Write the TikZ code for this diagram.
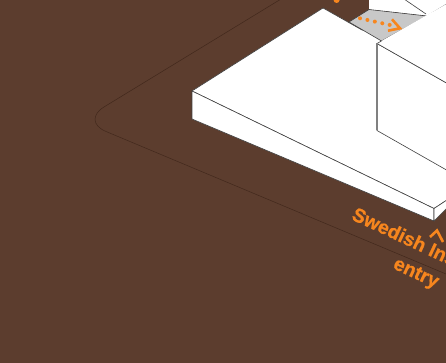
\documentclass[tikz,border=0pt]{standalone}
\usepackage{fontspec}
\setmainfont{Liberation Sans}
\newfontface\signface[FakeBold=0.7]{Liberation Sans Bold}
\usepackage{xcolor}
\usetikzlibrary{arrows.meta,calc}
\definecolor{ground}{RGB}{92,61,46}
\definecolor{groundline}{RGB}{66,40,28}
\definecolor{entryorange}{RGB}{247,134,30}
\definecolor{yardgray}{RGB}{200,200,200}
\tikzset{
  block/.style={fill=white,draw=black!75,line width=0.6pt,line join=round},
  sign/.style={text=entryorange,font=\signface\fontsize{19.5}{19.5}\selectfont,rotate=-25,inner sep=0pt,anchor=base west},
  pointer/.style={draw=entryorange,line width=2.6pt,line join=miter}
}
\begin{document}
\begin{tikzpicture}[x=1pt,y=-1pt]
  \useasboundingbox (0,0) rectangle (446,363);
  \clip (0,0) rectangle (446,363);
  \fill[ground] (0,0) rectangle (446,363);
  % site outline
  \draw[groundline,line width=0.5pt,rounded corners=27pt] (286,-4)--(81,121)--(446,274);
  % low slab
  \coordinate (slabW) at (192,91);
  \coordinate (slabN) at (323,8);
  \coordinate (slabS) at (434,208.5);
  \draw[block] (slabW)--(slabN)--(362,30)--(450,30)--(450,198)--(slabS)--cycle;
  \draw[block] (slabW)--(slabS)--(434,221)--(192,119)--cycle;
  \draw[block] (slabS)--(450,198)--(450,205)--(434,221)--cycle;
  % courtyard
  \coordinate (yardW) at (349,22);
  \coordinate (yardN) at (369,9.5);
  \coordinate (yardE) at (427,16);
  \coordinate (yardS) at (381.5,41);
  \fill[white] (369,-2)--(448,-2)--(448,30)--(yardE)--(yardN)--cycle;
  \draw[block,fill=yardgray] (yardW)--(yardN)--(yardE)--(yardS)--cycle;
  \draw[black!75,line width=0.6pt] (yardE)--(450,2);
  \draw[black!75,line width=0.6pt] (404,-1)--(426,14);
  % tall block
  \coordinate (towerN) at (377,43.5);
  \coordinate (towerB) at (377,130.5);
  \draw[block] (towerN)--(450,85)--(450,172)--(towerB)--cycle;
  \fill[white] (yardS)--(450,2)--(450,85)--(towerN)--cycle;
  \draw[black!75,line width=0.6pt] (towerN)--(450,85);
  \draw[black!75,line width=0.6pt] (yardS)--(towerN);
  \draw[black!50,line width=1.2pt] (towerN)--(towerB);
  % arrows and labels
  \draw[pointer,line width=4pt,line cap=round,dash pattern=on 0pt off 7.6pt] (360,18.3)--(390,25);
  \draw[pointer] (392,19.3)--(400,28.3)--(388,30.7);
  \draw[pointer] (430,237)--(437,230.5)--(443,242);
  \node[sign] (entryname) at (350.5,219) {Swedish Institute};
  \node[sign] (entrylabel) at (392,268) {entry};
  \fill[entryorange] (336.6,0) circle (3pt);
\end{tikzpicture}
\end{document}
